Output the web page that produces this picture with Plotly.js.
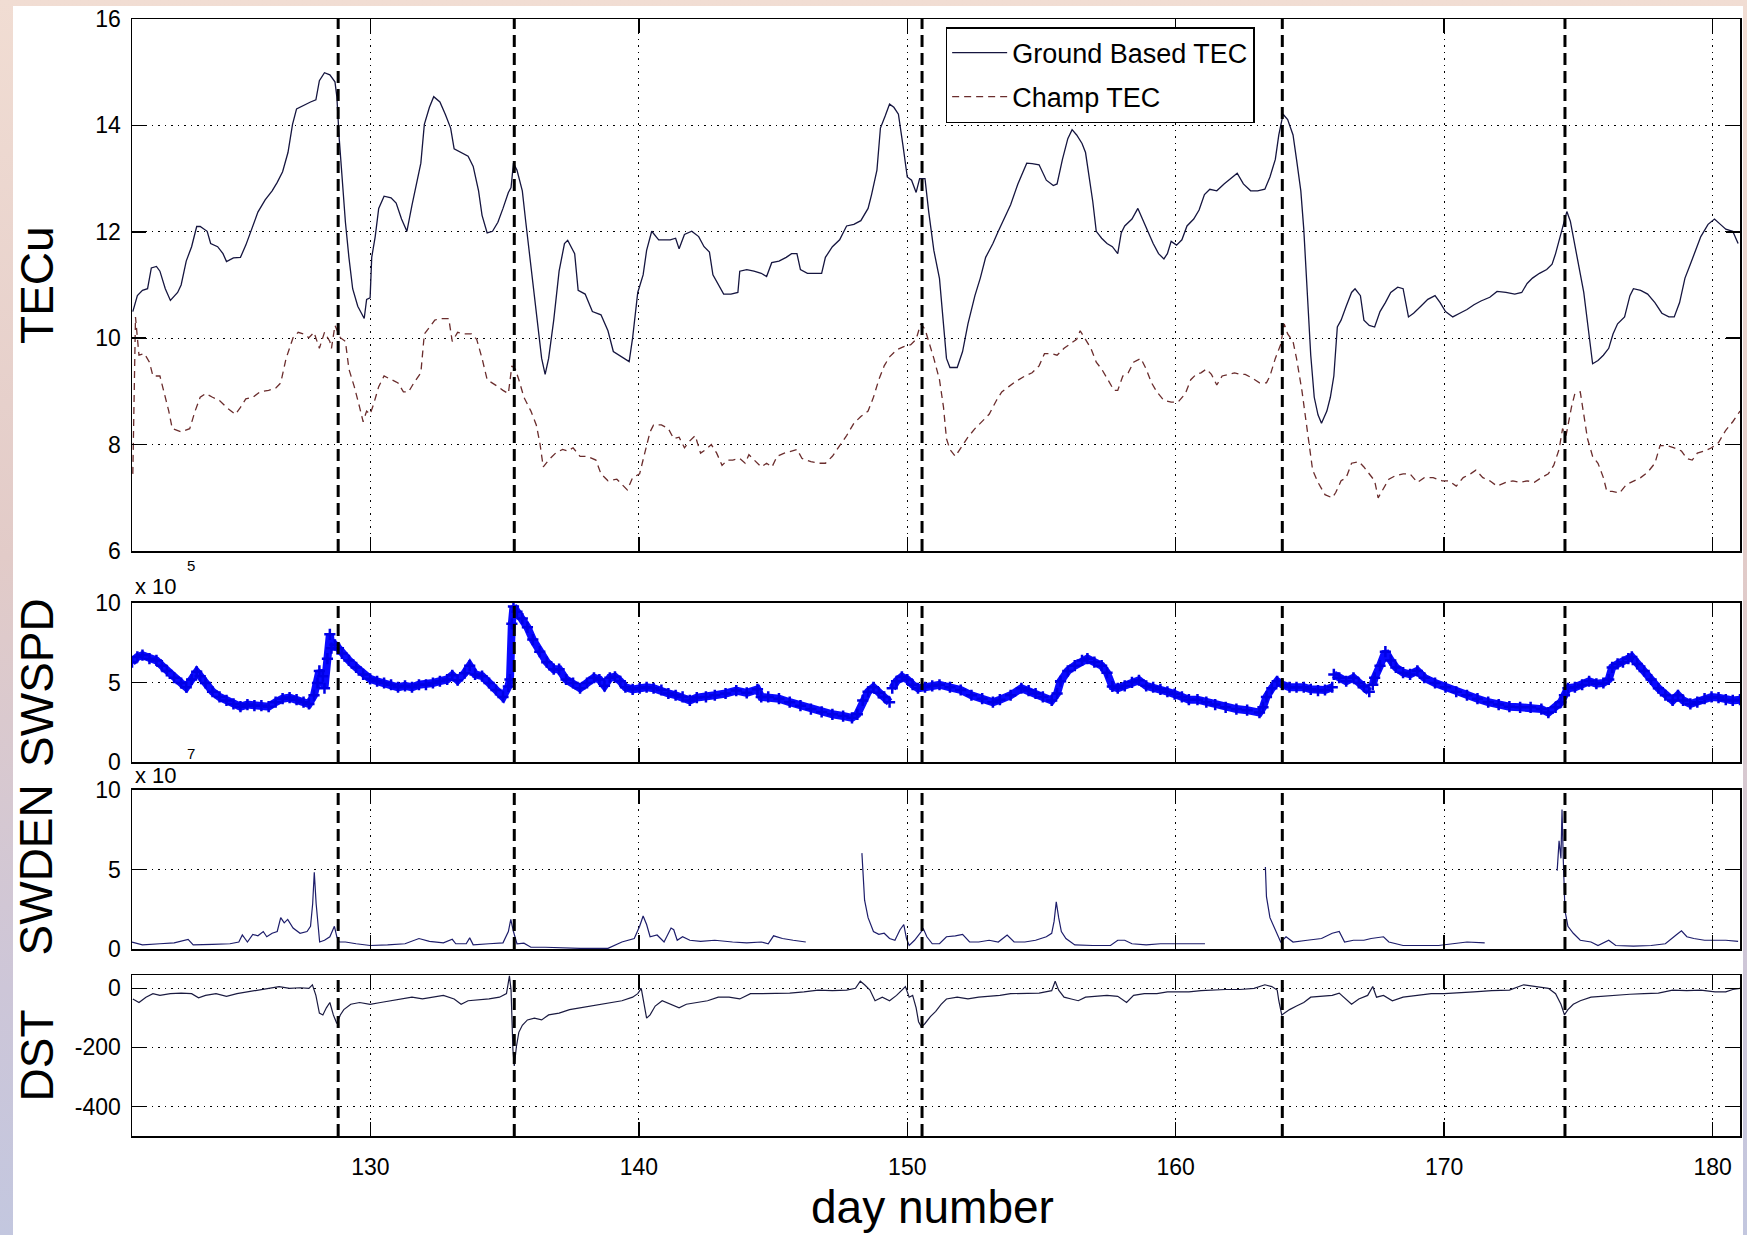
<!DOCTYPE html>
<html>
<head>
<meta charset="utf-8">
<script src="https://cdn.plot.ly/plotly-3.0.1.min.js"></script>
<style>
  html, body { margin:0; padding:0; }
  body { width:1747px; height:1235px; position:relative; overflow:hidden;
         background: linear-gradient(to bottom, #f1ddd3 0%, #e2cbc8 45%, #cdc6d8 80%, #c3c7df 100%); }
  #white { position:absolute; left:13px; top:6px; width:1730px; height:1229px; background:#ffffff; }
  #plot { position:absolute; left:0; top:0; width:1747px; height:1235px; }
</style>
</head>
<body>
<div id="white"></div>
<div id="plot"></div>
<script>
// ---------- Panel 1: TEC (TECu) ----------
const gtDay = [121.15,121.32,121.51,121.70,121.84,122.03,122.16,122.36,122.55,122.82,122.95,123.14,123.34,123.53,123.66,123.92,124.05,124.31,124.51,124.64,124.90,125.16,125.36,125.55,125.81,126.08,126.34,126.53,126.73,126.93,127.10,127.25,127.51,127.77,127.97,128.10,128.29,128.49,128.68,128.75,128.84,128.94,129.07,129.20,129.34,129.53,129.77,129.86,129.99,130.05,130.18,130.31,130.51,130.77,130.96,131.16,131.36,131.55,131.75,131.88,132.01,132.20,132.36,132.59,132.79,132.99,133.12,133.38,133.64,133.83,134.03,134.16,134.35,134.55,134.75,134.94,135.14,135.24,135.33,135.46,135.66,135.79,135.98,136.18,136.38,136.51,136.64,136.83,137.03,137.23,137.35,137.61,137.74,138.00,138.27,138.59,138.85,139.05,139.37,139.64,139.77,139.96,140.16,140.29,140.48,140.74,141.17,141.37,141.50,141.70,141.97,142.23,142.43,142.63,142.76,142.96,143.16,143.43,143.69,143.76,144.02,144.29,144.56,144.76,144.95,145.22,145.49,145.69,145.89,146.02,146.28,146.55,146.81,146.95,147.21,147.48,147.74,148.01,148.27,148.54,148.67,148.87,149.00,149.18,149.34,149.50,149.67,149.84,150.00,150.16,150.33,150.46,150.66,150.80,150.99,151.20,151.33,151.46,151.59,151.86,152.06,152.26,152.52,152.72,152.92,153.19,153.39,153.65,153.85,154.12,154.45,154.65,154.91,155.18,155.44,155.58,155.78,155.98,156.14,156.31,156.51,156.64,156.77,156.91,157.04,157.24,157.44,157.64,157.84,157.97,158.10,158.37,158.59,158.76,158.96,159.16,159.36,159.56,159.69,159.83,160.03,160.23,160.42,160.67,160.87,161.07,161.27,161.53,161.80,162.06,162.29,162.52,162.79,163.05,163.32,163.51,163.71,163.84,164.00,164.17,164.37,164.50,164.66,164.77,164.90,165.03,165.16,165.30,165.43,165.63,165.76,165.89,166.02,166.16,166.35,166.55,166.68,166.88,167.01,167.21,167.41,167.61,167.81,168.01,168.27,168.47,168.67,168.86,169.13,169.39,169.66,169.85,170.05,170.32,170.58,170.85,171.11,171.37,171.70,171.97,172.30,172.63,172.89,173.09,173.29,173.55,173.82,174.02,174.15,174.28,174.41,174.57,174.70,174.83,175.01,175.20,175.36,175.53,175.73,175.93,176.13,176.29,176.46,176.72,176.92,177.05,177.32,177.58,177.85,178.11,178.37,178.57,178.77,178.97,179.17,179.37,179.56,179.83,180.07,180.29,180.49,180.75,180.95];
const gtTEC = [10.50,10.80,10.90,10.93,11.32,11.35,11.26,10.93,10.71,10.86,11.00,11.45,11.72,12.10,12.10,12.01,11.78,11.72,11.59,11.44,11.51,11.52,11.75,12.01,12.37,12.60,12.77,12.93,13.13,13.49,14.02,14.31,14.38,14.44,14.48,14.84,14.99,14.95,14.82,14.54,13.75,13.10,12.18,11.52,10.93,10.60,10.37,10.73,10.76,11.52,11.91,12.44,12.67,12.64,12.54,12.24,12.01,12.50,12.96,13.29,14.02,14.34,14.54,14.44,14.21,13.95,13.56,13.49,13.42,13.23,12.77,12.31,11.98,12.01,12.18,12.44,12.74,12.83,13.29,13.16,12.77,12.18,11.39,10.54,9.62,9.32,9.62,10.34,11.26,11.78,11.84,11.59,10.90,10.83,10.50,10.44,10.14,9.75,9.65,9.56,10.01,10.86,11.19,11.65,12.01,11.85,11.85,11.88,11.68,11.95,12.01,11.91,11.72,11.62,11.19,11.00,10.83,10.83,10.86,11.26,11.29,11.26,11.22,11.16,11.42,11.45,11.52,11.59,11.59,11.29,11.22,11.22,11.22,11.52,11.72,11.85,12.11,12.14,12.21,12.44,12.70,13.16,13.95,14.18,14.40,14.34,14.21,13.62,13.03,12.97,12.74,13.00,13.00,12.37,11.65,11.12,10.34,9.62,9.45,9.45,9.75,10.27,10.80,11.13,11.52,11.78,12.01,12.31,12.51,12.90,13.29,13.28,13.26,12.97,12.87,12.90,13.36,13.75,13.92,13.82,13.66,13.49,13.03,12.57,12.01,11.88,11.78,11.72,11.59,11.98,12.11,12.24,12.44,12.24,11.98,11.78,11.59,11.49,11.59,11.82,11.75,11.85,12.11,12.24,12.41,12.70,12.80,12.77,12.90,13.00,13.10,12.90,12.77,12.77,12.80,13.03,13.36,13.82,14.21,14.11,13.82,13.36,12.77,12.05,10.86,9.68,8.89,8.56,8.40,8.63,8.89,9.29,10.21,10.34,10.60,10.86,10.93,10.80,10.34,10.24,10.21,10.50,10.67,10.86,10.96,10.93,10.40,10.47,10.60,10.73,10.80,10.67,10.50,10.40,10.47,10.54,10.63,10.70,10.77,10.88,10.86,10.83,10.86,11.03,11.13,11.22,11.29,11.39,11.59,11.85,12.11,12.38,12.20,11.85,11.39,10.86,10.21,9.52,9.58,9.68,9.81,10.08,10.27,10.40,10.80,10.93,10.90,10.83,10.67,10.47,10.40,10.40,10.67,11.13,11.39,11.65,11.91,12.14,12.24,12.14,12.05,12.01,11.78];

const chDay = [121.15,121.25,121.38,121.58,121.77,121.90,122.16,122.29,122.49,122.62,122.95,123.27,123.47,123.66,123.86,124.12,124.38,124.64,124.97,125.16,125.36,125.62,125.88,126.21,126.47,126.66,126.86,127.12,127.31,127.51,127.71,127.90,128.10,128.29,128.49,128.55,128.68,128.88,129.07,129.20,129.40,129.60,129.73,129.86,129.99,130.12,130.31,130.51,130.77,131.03,131.23,131.42,131.62,131.88,132.01,132.20,132.40,132.59,132.92,133.05,133.25,133.51,133.77,133.96,134.16,134.35,134.55,134.75,134.94,135.14,135.27,135.40,135.53,135.72,135.98,136.18,136.31,136.44,136.64,136.90,137.16,137.35,137.55,137.81,138.07,138.40,138.59,138.85,139.18,139.37,139.57,139.77,140.03,140.22,140.42,140.55,140.84,141.10,141.30,141.50,141.70,141.90,142.10,142.30,142.50,142.70,142.90,143.10,143.30,143.50,143.76,143.96,144.10,144.30,144.56,144.76,144.96,145.15,145.42,145.69,145.89,146.08,146.41,146.68,146.95,147.21,147.48,147.74,148.01,148.27,148.54,148.74,148.94,149.14,149.34,149.60,149.87,150.13,150.33,150.50,150.66,150.80,150.99,151.20,151.35,151.46,151.59,151.79,151.99,152.26,152.52,152.79,153.05,153.32,153.52,153.78,154.05,154.38,154.65,154.91,155.11,155.38,155.58,155.84,156.11,156.31,156.44,156.64,156.84,157.04,157.24,157.44,157.70,157.84,158.03,158.23,158.43,158.70,158.90,159.10,159.30,159.56,159.83,160.09,160.36,160.56,160.76,160.94,161.14,161.33,161.53,161.73,161.99,162.19,162.39,162.59,162.85,163.12,163.38,163.51,163.71,163.91,164.04,164.17,164.37,164.50,164.70,164.83,164.96,165.10,165.30,165.56,165.83,165.96,166.16,166.35,166.55,166.82,167.01,167.21,167.41,167.54,167.74,167.94,168.20,168.47,168.73,169.00,169.26,169.59,169.92,170.18,170.45,170.71,170.98,171.18,171.44,171.70,171.97,172.30,172.56,172.83,173.09,173.36,173.62,173.88,174.08,174.28,174.41,174.54,174.74,174.87,175.07,175.20,175.34,175.53,175.73,175.93,176.06,176.26,176.53,176.79,177.05,177.32,177.58,177.85,178.04,178.31,178.57,178.84,179.04,179.24,179.43,179.70,179.96,180.22,180.49,180.75,181.02];
const chTEC = [7.45,10.40,9.68,9.71,9.55,9.29,9.29,9.02,8.63,8.30,8.24,8.30,8.63,8.89,8.96,8.89,8.83,8.70,8.57,8.70,8.86,8.89,8.99,9.02,9.06,9.16,9.62,10.01,10.11,10.08,10.01,10.11,9.81,10.11,9.94,9.81,10.24,10.01,9.94,9.42,9.09,8.70,8.43,8.63,8.57,8.76,9.09,9.29,9.22,9.16,8.99,8.99,9.16,9.35,10.08,10.21,10.34,10.37,10.37,9.94,10.11,10.08,10.08,9.98,9.62,9.22,9.16,9.09,9.02,8.96,9.48,9.42,9.22,8.89,8.63,8.37,8.04,7.58,7.71,7.84,7.91,7.88,7.94,7.78,7.78,7.71,7.45,7.32,7.35,7.25,7.15,7.38,7.45,7.84,8.24,8.37,8.37,8.30,8.11,8.14,7.94,8.07,8.17,7.84,7.91,8.00,7.84,7.61,7.71,7.71,7.74,7.65,7.81,7.71,7.58,7.65,7.58,7.78,7.84,7.88,7.91,7.74,7.68,7.65,7.65,7.78,7.98,8.17,8.40,8.53,8.63,8.89,9.22,9.48,9.65,9.78,9.84,9.88,9.98,10.27,10.17,9.94,9.62,9.22,8.70,8.11,7.91,7.78,7.94,8.14,8.30,8.43,8.57,8.83,8.99,9.09,9.19,9.29,9.35,9.48,9.71,9.71,9.68,9.81,9.91,9.98,10.14,9.98,9.81,9.55,9.42,9.25,9.02,9.02,9.29,9.35,9.55,9.62,9.42,9.16,8.99,8.83,8.80,8.80,8.96,9.22,9.32,9.35,9.42,9.32,9.12,9.29,9.32,9.35,9.32,9.32,9.25,9.16,9.16,9.29,9.62,9.88,10.27,10.08,9.94,9.62,9.02,8.56,8.04,7.52,7.29,7.06,7.00,7.10,7.32,7.38,7.65,7.68,7.58,7.45,7.32,7.00,7.19,7.35,7.42,7.45,7.45,7.29,7.38,7.38,7.32,7.32,7.22,7.38,7.45,7.52,7.38,7.32,7.22,7.29,7.32,7.29,7.32,7.29,7.38,7.45,7.61,7.91,8.30,8.17,8.70,8.96,8.99,8.56,8.11,7.78,7.65,7.38,7.12,7.12,7.09,7.25,7.32,7.38,7.48,7.65,7.98,7.98,7.94,7.88,7.74,7.71,7.84,7.88,7.94,8.04,8.27,8.43,8.63];

// ---------- Panel 2: SWSPD (x 10^5) ----------
const spdDay = [121.12,121.32,121.51,121.77,122.03,122.23,122.42,122.69,122.95,123.14,123.34,123.53,123.66,123.86,124.12,124.38,124.64,124.90,125.16,125.42,125.68,125.94,126.21,126.47,126.73,126.99,127.25,127.51,127.71,127.90,128.03,128.10,128.23,128.29,128.40,128.49,128.55,128.68,128.81,128.94,129.20,129.47,129.73,129.99,130.25,130.51,130.77,131.03,131.29,131.55,131.81,132.07,132.33,132.59,132.86,133.05,133.25,133.51,133.70,133.90,134.16,134.42,134.68,134.94,135.14,135.20,135.27,135.33,135.46,135.66,135.85,136.05,136.31,136.57,136.83,137.03,137.29,137.55,137.81,138.07,138.33,138.53,138.72,138.92,139.11,139.31,139.50,139.77,140.03,140.29,140.55,140.84,141.10,141.37,141.63,141.90,142.16,142.50,142.83,143.23,143.63,144.02,144.42,144.56,144.82,145.22,145.62,146.02,146.41,146.81,147.21,147.61,147.94,148.14,148.34,148.54,148.74,148.94,149.14,149.34,149.39,149.44,149.60,149.80,150.00,150.20,150.40,150.66,150.93,151.20,151.59,151.99,152.39,152.79,153.19,153.45,153.85,154.25,154.52,154.78,155.05,155.38,155.58,155.71,155.98,156.24,156.51,156.71,156.97,157.24,157.44,157.64,157.84,158.10,158.37,158.63,158.90,159.16,159.43,159.69,159.96,160.23,160.49,160.81,161.14,161.47,161.86,162.26,162.66,163.12,163.25,163.38,163.58,163.78,163.98,164.24,164.50,164.77,165.03,165.30,165.56,165.83,165.86,165.89,166.09,166.35,166.62,166.82,167.01,167.21,167.28,167.34,167.41,167.61,167.81,168.01,168.20,168.47,168.73,169.00,169.26,169.66,170.05,170.45,170.85,171.24,171.64,172.03,172.43,172.83,173.22,173.62,173.88,174.15,174.35,174.48,174.61,174.87,175.14,175.40,175.67,175.93,176.13,176.26,176.46,176.66,176.86,176.99,177.19,177.45,177.71,177.98,178.24,178.51,178.71,178.90,179.17,179.43,179.70,179.96,180.22,180.49,180.75,181.02];
const spdVal = [6.28,6.61,6.72,6.50,6.39,6.06,5.73,5.30,4.97,4.70,5.19,5.67,5.40,4.97,4.42,4.09,3.87,3.65,3.48,3.61,3.54,3.54,3.48,3.76,3.98,4.05,3.92,3.76,3.65,4.20,4.97,5.73,5.40,4.64,6.50,8.03,7.16,7.37,7.16,6.83,6.39,5.95,5.51,5.23,5.08,4.97,4.86,4.70,4.79,4.70,4.86,4.86,4.97,5.08,5.19,5.45,5.14,5.58,6.06,5.51,5.40,4.97,4.53,4.09,4.75,5.19,8.69,9.78,9.45,9.02,8.47,7.70,6.94,6.28,5.84,5.84,5.19,4.97,4.64,4.97,5.30,5.19,4.79,5.30,5.36,5.08,4.70,4.57,4.64,4.70,4.64,4.53,4.31,4.20,4.09,3.87,4.05,4.09,4.20,4.31,4.49,4.35,4.57,4.09,4.09,3.98,3.76,3.54,3.33,3.15,3.00,2.89,2.78,3.00,3.87,4.42,4.70,4.35,4.09,3.76,null,4.64,5.08,5.36,5.19,4.86,4.64,4.70,4.79,4.86,4.70,4.53,4.20,3.98,3.76,3.92,4.20,4.64,4.49,4.31,4.09,3.87,4.31,5.08,5.73,6.06,6.39,6.50,6.28,6.06,5.62,4.75,4.64,4.79,5.01,5.14,4.79,4.70,4.57,4.42,4.27,4.09,3.92,3.92,3.76,3.61,3.44,3.33,3.26,3.11,3.44,4.09,4.64,5.08,4.86,4.70,4.70,4.70,4.57,4.49,4.53,4.70,null,5.51,5.30,5.08,5.30,4.97,4.75,4.42,null,4.86,5.30,6.06,6.94,6.39,5.95,5.62,5.51,5.73,5.30,4.97,4.70,4.42,4.20,3.98,3.76,3.61,3.48,3.44,3.44,3.33,3.11,3.44,3.76,4.20,4.64,4.70,4.86,5.08,4.92,4.97,5.19,5.95,6.17,6.28,6.50,6.61,6.17,5.73,5.19,4.64,4.20,3.87,4.20,3.87,3.65,3.76,3.98,4.09,4.05,3.92,3.87,3.92];

// ---------- Panel 3: SWDEN (x 10^7) ----------
const denDay = [121.12,121.51,122.16,122.69,123.21,123.40,124.12,124.77,125.10,125.23,125.42,125.62,125.81,126.01,126.14,126.34,126.53,126.66,126.79,126.92,127.12,127.38,127.64,127.77,127.85,127.91,127.98,128.11,128.29,128.49,128.66,128.75,128.84,129.07,129.47,129.99,130.64,131.29,131.81,132.20,132.72,133.05,133.18,133.57,133.70,133.83,134.42,134.94,135.14,135.23,135.33,135.46,135.72,135.98,136.51,137.81,138.85,139.37,139.83,140.03,140.16,140.29,140.42,140.68,140.94,141.20,141.30,141.43,141.63,141.90,142.30,142.83,143.49,144.02,144.56,144.82,145.02,145.35,145.75,146.22,147.30,148.31,148.41,148.54,148.74,148.94,149.14,149.34,149.54,149.73,149.87,149.97,150.07,150.27,150.46,150.60,150.73,150.93,151.20,151.46,151.79,152.06,152.32,152.66,153.05,153.39,153.72,153.98,154.38,154.78,155.18,155.38,155.47,155.55,155.64,155.74,155.91,156.24,156.91,157.57,157.84,158.10,158.37,158.90,159.43,159.96,160.49,161.09,162.20,163.34,163.38,163.51,163.65,163.78,163.91,164.11,164.37,164.90,165.43,165.83,166.09,166.29,166.62,167.01,167.28,167.74,167.94,168.47,169.13,169.79,170.32,170.85,171.51,172.80,174.21,174.28,174.35,174.39,174.44,174.50,174.61,174.81,175.07,175.47,175.73,176.13,176.39,177.05,177.71,178.24,178.64,178.84,179.04,179.30,179.70,180.09,180.49,180.95];
const denVal = [0.44,0.26,0.33,0.39,0.61,0.26,0.29,0.33,0.44,0.88,0.44,0.92,0.83,1.10,0.77,0.99,1.10,1.97,1.64,1.86,1.32,0.99,1.10,1.43,2.85,4.82,2.85,0.44,0.55,0.77,1.43,0.77,0.44,0.44,0.33,0.22,0.26,0.33,0.66,0.48,0.39,0.61,0.33,0.33,0.70,0.26,0.33,0.39,1.10,1.86,1.10,0.33,0.37,0.11,0.11,0.04,0.04,0.44,0.66,1.43,2.08,1.54,0.77,0.88,0.44,1.32,1.21,0.55,0.77,0.55,0.48,0.55,0.44,0.39,0.44,0.33,0.83,0.66,0.55,0.44,null,6.03,3.07,1.97,1.10,0.92,0.99,0.66,0.55,1.21,1.54,0.66,0.22,0.55,0.99,1.27,0.77,0.33,0.33,0.77,0.83,0.92,0.44,0.44,0.55,0.44,0.88,0.44,0.44,0.55,0.77,0.99,1.75,2.96,1.97,1.10,0.66,0.26,0.22,0.22,0.55,0.55,0.33,0.26,0.33,0.33,0.33,0.33,null,5.15,3.29,1.97,1.43,0.99,0.44,0.77,0.44,0.55,0.66,0.99,1.10,0.44,0.55,0.55,0.66,0.77,0.44,0.22,0.22,0.22,0.33,0.44,0.39,null,4.93,6.80,5.70,8.77,5.48,2.41,1.43,0.99,0.55,0.44,0.22,0.55,0.22,0.18,0.22,0.33,0.88,1.14,0.77,0.66,0.55,0.55,0.55,0.48];

// ---------- Panel 4: DST ----------
const dstDay = [121.15,121.38,121.64,121.90,122.16,122.55,122.95,123.34,123.60,123.86,124.25,124.64,125.03,125.42,125.81,126.21,126.60,126.99,127.38,127.71,127.84,127.97,128.10,128.23,128.36,128.49,128.62,128.75,128.88,129.01,129.27,129.60,129.99,130.38,130.77,131.16,131.55,131.94,132.33,132.72,133.12,133.38,133.64,134.03,134.42,134.81,135.07,135.18,135.24,135.31,135.36,135.44,135.53,135.66,135.85,136.11,136.38,136.64,137.03,137.42,137.81,138.20,138.59,138.98,139.37,139.77,139.96,140.09,140.18,140.29,140.42,140.61,140.87,141.17,141.50,141.77,142.16,142.56,142.96,143.36,143.76,144.16,144.56,145.09,145.62,146.15,146.68,147.21,147.74,148.07,148.25,148.41,148.61,148.80,149.07,149.34,149.60,149.80,149.93,150.07,150.20,150.33,150.42,150.53,150.66,150.86,151.06,151.26,151.46,151.86,152.26,152.66,153.05,153.45,153.85,154.38,154.91,155.38,155.51,155.64,155.84,156.11,156.37,156.64,157.04,157.44,157.84,158.17,158.43,158.83,159.30,159.69,160.09,160.49,160.94,161.33,161.86,162.39,162.92,163.32,163.58,163.78,163.84,163.95,164.04,164.24,164.50,164.77,165.03,165.43,165.83,166.09,166.35,166.55,166.82,167.15,167.34,167.48,167.74,168.07,168.47,169.00,169.52,170.00,170.58,171.11,171.77,172.43,172.96,173.49,173.88,174.15,174.35,174.48,174.61,174.81,175.07,175.47,175.87,176.39,176.92,177.45,177.98,178.51,179.04,179.56,180.09,180.49,180.75,181.02];
const dstVal = [-36,-48,-30,-18,-24,-18,-16,-18,-32,-24,-18,-27,-18,-12,-6,0,6,0,2,0,12,-24,-84,-90,-66,-48,-90,-119,-90,-72,-54,-48,-54,-48,-42,-36,-30,-36,-30,-24,-36,-54,-42,-39,-36,-30,-18,42,-6,-209,-263,-197,-149,-125,-107,-101,-107,-90,-84,-72,-66,-60,-54,-48,-42,-30,-18,0,-42,-101,-90,-60,-42,-54,-66,-54,-48,-42,-30,-30,-36,-18,-18,-18,-16,-12,-6,-8,-6,0,24,12,-6,-42,-30,-42,-24,-6,6,-30,-24,-66,-113,-131,-119,-96,-78,-54,-36,-30,-36,-30,-27,-24,-18,-18,-16,-8,24,-6,-30,-36,-42,-30,-27,-24,-27,-48,-24,-18,-18,-12,-12,-12,-8,-6,-4,-4,0,12,6,-6,-42,-90,-84,-72,-60,-48,-30,-27,-24,-16,-36,-54,-36,-24,6,-30,-24,-42,-30,-24,-18,-18,-16,-12,-8,-6,12,6,0,-18,-54,-90,-72,-54,-42,-30,-27,-24,-20,-18,-16,-6,-8,-6,-12,-12,-4,0];

// ---------- Event markers and axis ticks ----------
const eventDays = [128.80, 135.36, 150.55, 163.97, 174.50];
const dayTicks = [130, 140, 150, 160, 170, 180];
const tecTicks = [6, 8, 10, 12, 14, 16];
const spdTicks = [0, 5, 10];
const denTicks = [0, 5, 10];
const dstTicks = [-400, -200, 0];

const FONT = 'Liberation Sans, Arial, Helvetica, sans-serif';

const traces = [
  {x: gtDay, y: gtTEC, type: 'scatter', mode: 'lines', name: 'Ground Based TEC', legendgroup: 'g1',
   xaxis: 'x', yaxis: 'y', line: {color: '#15153f', width: 1.3}},
  {x: chDay, y: chTEC, type: 'scatter', mode: 'lines', name: 'Champ TEC', legendgroup: 'g2',
   xaxis: 'x', yaxis: 'y', line: {color: '#6a2c2c', width: 1.3, dash: '7px,5px'}},
  {x: spdDay, y: spdVal, type: 'scatter', mode: 'lines+markers', name: 'SWSPD', showlegend: false,
   xaxis: 'x2', yaxis: 'y2', connectgaps: false,
   line: {color: '#0a0aff', width: 8},
   marker: {symbol: 'cross-thin-open', size: 8, color: '#0000e6', line: {color: '#0000e6', width: 2.5}}},
  {x: denDay, y: denVal, type: 'scatter', mode: 'lines', name: 'SWDEN', showlegend: false,
   xaxis: 'x3', yaxis: 'y3', connectgaps: false, line: {color: '#1d1d6b', width: 1.2}},
  {x: dstDay, y: dstVal, type: 'scatter', mode: 'lines', name: 'DST', showlegend: false,
   xaxis: 'x4', yaxis: 'y4', line: {color: '#1a1a40', width: 1.2}}
];

const tickFont = {family: FONT, size: 23, color: '#000'};
const xCommon = {
  range: [121.12, 181.02], tickvals: dayTicks, ticks: 'inside', ticklen: 14, tickwidth: 1.5,
  tickcolor: '#000', showline: true, linecolor: '#000', linewidth: 1.5, mirror: 'allticks',
  showgrid: true, gridcolor: '#000', gridwidth: 1, griddash: '1.5px,5px', zeroline: false,
  tickfont: tickFont, showticklabels: false, fixedrange: true
};
const yCommon = {
  ticks: 'inside', ticklen: 14, tickwidth: 1.5, tickcolor: '#000', showline: true,
  linecolor: '#000', linewidth: 1.5, mirror: 'allticks', showgrid: true, gridcolor: '#000',
  gridwidth: 1, griddash: '1.5px,5px', zeroline: false, ticklabelstandoff: 5,
  tickfont: tickFont, fixedrange: true
};

const shapes = [];
const axSuffix = ['', '2', '3', '4'];
eventDays.forEach(d => {
  axSuffix.forEach(s => {
    shapes.push({type: 'line', xref: 'x' + s, yref: 'y' + s + ' domain', x0: d, x1: d, y0: 0, y1: 1,
                 line: {color: '#000', width: 3, dash: '12px,6px'}});
  });
});

const titleFont = {family: FONT, size: 46, color: '#000'};
const annotations = [
  {text: 'TECu', xref: 'paper', yref: 'paper', x: -0.0591, y: 0.7619, textangle: -90, showarrow: false, font: titleFont, xanchor: 'center', yanchor: 'middle'},
  {text: 'SWSPD', xref: 'paper', yref: 'paper', x: -0.0591, y: 0.4065, textangle: -90, showarrow: false, font: titleFont, xanchor: 'center', yanchor: 'middle'},
  {text: 'SWDEN', xref: 'paper', yref: 'paper', x: -0.0591, y: 0.2386, textangle: -90, showarrow: false, font: titleFont, xanchor: 'center', yanchor: 'middle'},
  {text: 'DST', xref: 'paper', yref: 'paper', x: -0.0591, y: 0.0721, textangle: -90, showarrow: false, font: titleFont, xanchor: 'center', yanchor: 'middle'},
  {text: 'day number', xref: 'paper', yref: 'paper', x: 0.498, y: -0.0636, showarrow: false, font: titleFont, xanchor: 'center', yanchor: 'middle'},
  {text: 'x 10', xref: 'paper', yref: 'paper', x: 0.0006, y: 0.4915, showarrow: false, font: {family: FONT, size: 22, color: '#000'}, xanchor: 'left', yanchor: 'middle'},
  {text: '5', xref: 'paper', yref: 'paper', x: 0.033, y: 0.5103, showarrow: false, font: {family: FONT, size: 15, color: '#000'}, xanchor: 'left', yanchor: 'middle'},
  {text: 'x 10', xref: 'paper', yref: 'paper', x: 0.0006, y: 0.3223, showarrow: false, font: {family: FONT, size: 22, color: '#000'}, xanchor: 'left', yanchor: 'middle'},
  {text: '7', xref: 'paper', yref: 'paper', x: 0.033, y: 0.342, showarrow: false, font: {family: FONT, size: 15, color: '#000'}, xanchor: 'left', yanchor: 'middle'}
];

const layout = {
  width: 1747, height: 1235,
  margin: {l: 132, r: 7, t: 19, b: 99, pad: 0},
  paper_bgcolor: 'rgba(0,0,0,0)', plot_bgcolor: '#ffffff',
  font: {family: FONT, color: '#000', size: 22},
  showlegend: true,
  legend: {x: 0.506, y: 0.9928, xanchor: 'left', yanchor: 'top', bgcolor: '#ffffff',
           bordercolor: '#000', borderwidth: 1.5, font: {family: FONT, size: 27, color: '#000'},
           itemwidth: 55, tracegroupgap: 6},
  xaxis: Object.assign({}, xCommon, {anchor: 'y'}),
  xaxis2: Object.assign({}, xCommon, {anchor: 'y2', matches: 'x'}),
  xaxis3: Object.assign({}, xCommon, {anchor: 'y3', matches: 'x'}),
  xaxis4: Object.assign({}, xCommon, {anchor: 'y4', matches: 'x', showticklabels: true, ticklabelstandoff: 10}),
  yaxis: Object.assign({}, yCommon, {domain: [0.5237, 1.0], range: [6, 16], tickvals: tecTicks, anchor: 'x'}),
  yaxis2: Object.assign({}, yCommon, {domain: [0.3348, 0.4772], range: [0, 10], tickvals: spdTicks, anchor: 'x2'}),
  yaxis3: Object.assign({}, yCommon, {domain: [0.1674, 0.3098], range: [0, 10], tickvals: denTicks, anchor: 'x3'}),
  yaxis4: Object.assign({}, yCommon, {domain: [0, 0.1441], range: [-500, 45], tickvals: dstTicks,
                                      ticktext: dstTicks.map(v => String(v)), anchor: 'x4'}),
  shapes: shapes,
  annotations: annotations,
  hovermode: false
};

Plotly.newPlot('plot', traces, layout, {staticPlot: true, displayModeBar: false});
</script>
</body>
</html>
